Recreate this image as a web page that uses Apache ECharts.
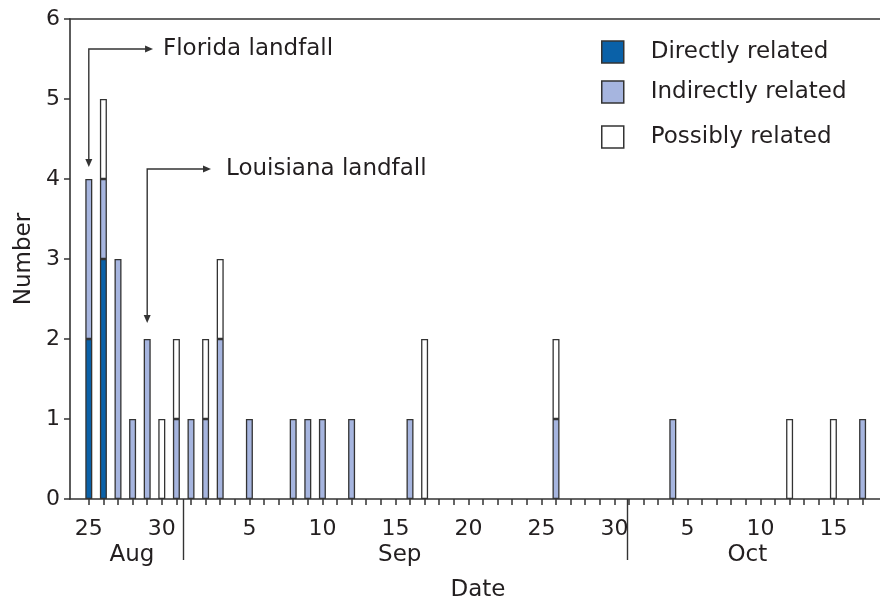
<!DOCTYPE html>
<html><head><meta charset="utf-8">
<script src="https://cdn.jsdelivr.net/npm/echarts@6/dist/echarts.min.js"></script>
<style>html,body{margin:0;padding:0;background:#fff}#c{width:880px;height:603px}</style>
</head><body><div id="c"></div>
<script>
// ---- data (2005, dates as MM-DD) ----
const dates      = ['08-25','08-26','08-27','08-28','08-29','08-30','08-31','09-01','09-02','09-03','09-05','09-08','09-09','09-10','09-12','09-16','09-17','09-26','10-04','10-12','10-15','10-17'];
const directly   = [2,3,0,0,0,0,0,0,0,0,0,0,0,0,0,0,0,0,0,0,0,0];
const indirectly = [2,1,3,1,2,0,1,1,1,2,1,1,1,1,1,1,0,1,1,0,0,1];
const possibly   = [0,1,0,0,0,1,1,0,1,1,0,0,0,0,0,0,2,1,0,1,1,0];
const yTicks     = [0,1,2,3,4,5,6];
const dateTickLabels = ['08-25','08-30','09-05','09-10','09-15','09-20','09-25','09-30','10-05','10-10','10-15'];
const tickRange  = ['08-25','10-17'];
const dayRange   = ['08-24','10-18'];
const monthBreaks = ['08-31','09-30'];
const months     = ['Aug','Sep','Oct'];
const seriesNames = ['Directly related','Indirectly related','Possibly related'];
const annotations = ['Florida landfall','Louisiana landfall'];

const FONT = 'DejaVu Sans';
const INK = '#231f20';
const LINE = '#333333';
const base = Date.UTC(2005,7,25);
const dayOf = s => { const [m,d] = s.split('-').map(Number); return (Date.UTC(2005,m-1,d)-base)/86400000; };
const dom = v => new Date(base + Math.round(v)*86400000).getUTCDate();
const label = d => { const t = new Date(base + d*86400000); return String(t.getUTCMonth()+1).padStart(2,'0') + '-' + String(t.getUTCDate()).padStart(2,'0'); };

// layout
const PX_PER_DAY = 14.6, DAY0_PX = 88.8, LEFT = 70, RIGHT_PX = 886;
const xMin = -(DAY0_PX-LEFT)/PX_PER_DAY;
const xMax = xMin + (RIGHT_PX-LEFT)/PX_PER_DAY;

// category table for the bars (one slot per day)
const d0 = dayOf(dayRange[0]), d1 = dayOf(dayRange[1]);
const cats = [];
for (let d = d0; d <= d1; d++) cats.push(label(d));
const lookup = arr => cats.map(c => { const k = dates.indexOf(c); return k < 0 ? 0 : arr[k]; });
const barLeft = DAY0_PX + d0*PX_PER_DAY;
const barRight = barLeft + (cats.length-1)*PX_PER_DAY;

const allTicks = [];
for (let d = dayOf(tickRange[0]); d <= dayOf(tickRange[1]); d++) allTicks.push(d);
const labelDays = dateTickLabels.map(dayOf);
const breakDays = [dayOf(monthBreaks[0]) + 0.45, dayOf(monthBreaks[1]) + 0.9];
const monthPos = [2.95, 21.3, 45.1];

const colors = ['#0a61a8','#a6b5df','#ffffff'];
const vals = [directly, indirectly, possibly];

const chart = echarts.init(document.getElementById('c'), null, {renderer:'canvas'});
const series = vals.map((arr,i) => ({
  name: seriesNames[i], type:'bar', stack:'all', barWidth: 7,
  xAxisIndex:3, yAxisIndex:1,
  itemStyle:{color:colors[i], borderColor:LINE, borderWidth:1.3},
  data: lookup(arr).map(v => v === 0 ? '-' : v),
  silent:true
}));

const legendTops = [35, 75, 120];
const legends = seriesNames.map((n,i) => ({
  left: 596, top: legendTops[i], orient:'vertical',
  itemWidth: 22, itemHeight: 22, icon:'rect',
  data:[{name:n, itemStyle:{color:colors[i], borderColor:LINE, borderWidth:1.5}}],
  textStyle:{fontFamily:FONT, fontSize:23, color:INK, padding:[0,0,0,22], lineHeight:24},
  selectedMode:false
}));

chart.setOption({
  animation:false,
  backgroundColor:'#fff',
  textStyle:{fontFamily:FONT},
  grid:[
    {left:LEFT, right:880-RIGHT_PX, top:19, bottom:104, containLabel:false, outerBoundsMode:'none'},
    {left:barLeft, right:880-barRight, top:19, bottom:104, containLabel:false, outerBoundsMode:'none'}
  ],
  legend: legends,
  xAxis:[
    { gridIndex:0, type:'value', min:xMin, max:xMax, position:'bottom',
      axisLine:{show:true, onZero:false, lineStyle:{color:LINE, width:1.6}},
      axisTick:{show:true, customValues:allTicks, length:6, lineStyle:{color:LINE, width:1.5}},
      axisLabel:{show:true, customValues:labelDays, formatter:v => String(dom(v)), fontFamily:FONT, fontSize:22, color:INK, margin:19},
      splitLine:{show:false}
    },
    { gridIndex:0, type:'value', min:xMin, max:xMax, position:'bottom',
      axisLine:{show:false, onZero:false},
      axisTick:{show:true, customValues:breakDays, length:61, lineStyle:{color:LINE, width:1.4}},
      axisLabel:{show:true, customValues:monthPos, formatter:v => months[monthPos.indexOf(v)], fontFamily:FONT, fontSize:23, color:INK, margin:45},
      splitLine:{show:false},
      name:'Date', nameLocation:'middle', nameGap:80,
      nameTextStyle:{fontFamily:FONT, fontSize:23, color:INK}
    },
    { gridIndex:0, type:'value', min:xMin, max:xMax, position:'top',
      axisLine:{show:true, onZero:false, lineStyle:{color:LINE, width:1.6}},
      axisTick:{show:false}, axisLabel:{show:false}, splitLine:{show:false}
    },
    { gridIndex:1, type:'category', data:cats, boundaryGap:false, show:false }
  ],
  yAxis:[
    { gridIndex:0, type:'value', min:yTicks[0], max:yTicks[yTicks.length-1], interval:1,
      axisLine:{show:true, onZero:false, lineStyle:{color:LINE, width:1.6}},
      axisTick:{show:true, length:6, lineStyle:{color:LINE, width:1.5}},
      axisLabel:{fontFamily:FONT, fontSize:22, color:INK, margin:10},
      splitLine:{show:false},
      name:'Number', nameLocation:'middle', nameGap:34, nameRotate:90,
      nameTextStyle:{fontFamily:FONT, fontSize:23, color:INK}
    },
    { gridIndex:1, type:'value', min:yTicks[0], max:yTicks[yTicks.length-1], show:false }
  ],
  series: series
});

// ---- annotations anchored in data coordinates ----
const P = (x,y) => chart.convertToPixel({xAxisIndex:0, yAxisIndex:0}, [x,y]);
function arrowGroup(corner, tipY, endX, textX, text) {
  const c = P(corner[0], corner[1]);
  const t = P(corner[0], tipY);
  const e = P(endX, corner[1]);
  const tx = P(textX, corner[1]);
  const st = {stroke:LINE, lineWidth:1.4};
  return [
    {type:'polyline', shape:{points:[[t[0], t[1]-7],[c[0],c[1]],[e[0]-7,e[1]]]}, style:Object.assign({fill:null}, st), silent:true},
    {type:'polygon', shape:{points:[[t[0]-3.5,t[1]-8],[t[0]+3.5,t[1]-8],[t[0],t[1]]]}, style:{fill:LINE}, silent:true},
    {type:'polygon', shape:{points:[[e[0]-8,e[1]-3.5],[e[0]-8,e[1]+3.5],[e[0],e[1]]]}, style:{fill:LINE}, silent:true},
    {type:'text', x:tx[0], y:tx[1], style:{text:text, fontFamily:FONT, fontSize:23, fill:INK, textVerticalAlign:'middle', textAlign:'left'}, silent:true}
  ];
}
chart.setOption({graphic: [].concat(
  arrowGroup([dayOf('08-25'), 5.625], 4.15, 4.4, 5.08, annotations[0]),
  arrowGroup([dayOf('08-29'), 4.125], 2.2, 8.37, 9.4, annotations[1])
)});
</script></body></html>
